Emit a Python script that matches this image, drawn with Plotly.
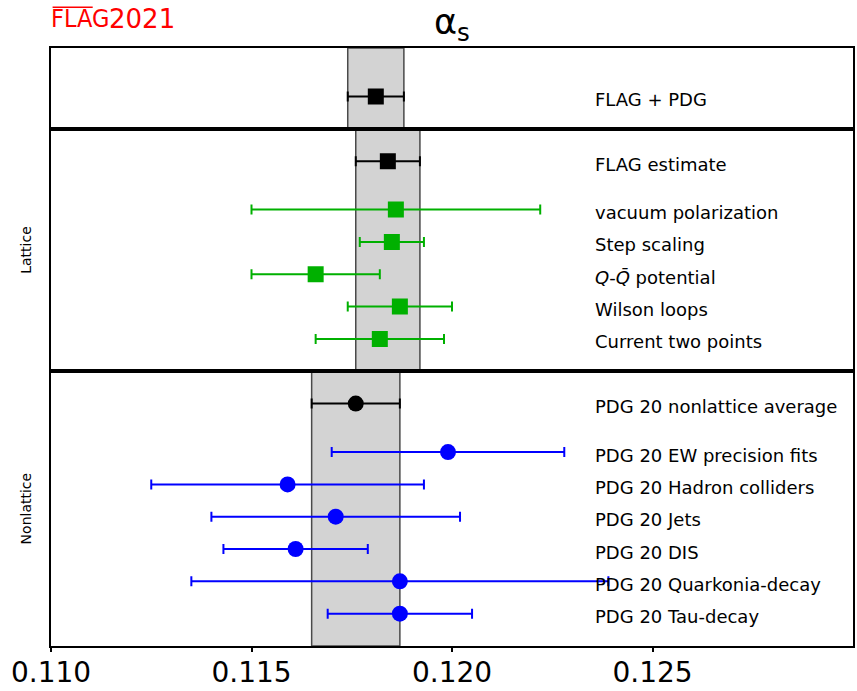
import plotly.graph_objects as go
from plotly.subplots import make_subplots

# FLAG + PDG combined
top_labels = ["FLAG + PDG"]
top_values = [0.1181]
top_errors = [0.0007]

# lattice determinations
lat_labels = ["FLAG estimate", "vacuum polarization", "Step scaling",
              "<i>Q</i>-<i>Q̄</i> potential", "Wilson loops", "Current two points"]
lat_values = [0.1184, 0.1186, 0.1185, 0.1166, 0.1187, 0.1182]
lat_errors = [0.0008, 0.0036, 0.0008, 0.0016, 0.0013, 0.0016]

# non-lattice determinations
non_labels = ["PDG 20 nonlattice average", "PDG 20 EW precision fits", "PDG 20 Hadron colliders",
              "PDG 20 Jets", "PDG 20 DIS", "PDG 20 Quarkonia-decay", "PDG 20 Tau-decay"]
non_values = [0.1176, 0.1199, 0.1159, 0.1171, 0.1161, 0.1187, 0.1187]
non_errors = [0.0011, 0.0029, 0.0034, 0.0031, 0.0018, 0.0052, 0.0018]

x_ticks = [0.110, 0.115, 0.120, 0.125]

GREEN = "#00b000"
BLUE = "#0000ff"
LABEL_X = 0.12352

fig = make_subplots(rows=3, cols=1, shared_xaxes=True, vertical_spacing=0,
                    row_heights=[2.5, 7.5, 8.5])


def rows_for(n):
    # first entry (average) sits 1.5 rows above the rest
    if n == 1:
        return [1]
    return [n + 0.5] + list(range(n - 1, 0, -1))


def add_group(row, labels, values, errors, colors, symbol, yref):
    ys = rows_for(len(values))
    # averaged band from the first entry
    fig.add_shape(type="rect", xref="x", yref=yref + " domain",
                  x0=values[0] - errors[0], x1=values[0] + errors[0], y0=0, y1=1,
                  fillcolor="#d3d3d3", line=dict(color="#4a4a4a", width=1.5), layer="below")
    for v, e, y, c in zip(values, errors, ys, colors):
        fig.add_trace(go.Scatter(
            x=[v], y=[y], mode="markers",
            marker=dict(symbol=symbol, size=16, color=c, line=dict(width=0)),
            error_x=dict(type="data", array=[e], color=c, thickness=2, width=5),
            showlegend=False, hoverinfo="x"
        ), row=row, col=1)
    for lab, y in zip(labels, ys):
        fig.add_annotation(x=LABEL_X, y=y, xref="x", yref=yref, text=lab,
                           xanchor="left", yanchor="middle", yshift=-3, showarrow=False,
                           font=dict(size=18, color="black", family="DejaVu Sans"))


add_group(1, top_labels, top_values, top_errors, ["black"], "square", "y")
add_group(2, lat_labels, lat_values, lat_errors, ["black"] + [GREEN] * 5, "square", "y2")
add_group(3, non_labels, non_values, non_errors, ["black"] + [BLUE] * 6, "circle", "y3")

for r, top in zip([1, 2, 3], [2.5, 7.5, 8.5]):
    fig.update_yaxes(range=[0, top], showticklabels=False, ticks="", showgrid=False,
                     zeroline=False, showline=True, mirror=True, linecolor="black",
                     linewidth=2, automargin=False, row=r, col=1)
    fig.update_xaxes(range=[0.110, 0.130], showgrid=False, zeroline=False, showline=True,
                     mirror=True, linecolor="black", linewidth=2, automargin=False,
                     row=r, col=1)

fig.update_xaxes(tickvals=x_ticks, ticktext=[f"{t:.3f}" for t in x_ticks], ticks="outside",
                 ticklen=4, tickwidth=1.5, tickcolor="black", ticklabelstandoff=-4,
                 tickfont=dict(size=28, color="black", family="DejaVu Sans"), row=3, col=1)

fig.update_yaxes(title_text="Lattice", title_standoff=14,
                 title_font=dict(size=14, color="black", family="DejaVu Sans"), row=2, col=1)
fig.update_yaxes(title_text="Nonlattice", title_standoff=14,
                 title_font=dict(size=14, color="black", family="DejaVu Sans"), row=3, col=1)

# title and FLAG logo
fig.add_annotation(x=0.5, y=1, xref="paper", yref="paper", yshift=48, text="α<sub>s</sub>",
                   showarrow=False, xanchor="center", yanchor="top",
                   font=dict(size=35, color="black", family="DejaVu Sans"))
fig.add_annotation(x=0, y=1, xref="paper", yref="paper", yshift=46, xshift=-2, text="FLAG",
                   showarrow=False, xanchor="left", yanchor="top",
                   font=dict(size=25, color="#ff0000", family="DejaVu Sans Condensed"))
fig.add_annotation(x=0, y=1, xref="paper", yref="paper", yshift=46, xshift=56, text="2021",
                   showarrow=False, xanchor="left", yanchor="top",
                   font=dict(size=26, color="#ff0000", family="DejaVu Sans"))
fig.add_shape(type="line", xref="paper", yref="paper", x0=0.002, x1=0.052, y0=1.068, y1=1.068,
              line=dict(color="#ff0000", width=1.5))

fig.update_layout(width=857, height=691, plot_bgcolor="white", paper_bgcolor="white",
                  margin=dict(l=51, r=4, t=48, b=45), showlegend=False)

# page body has a default 8px margin; drop it so the figure fills the window
fig.write_html("out.html", config={"displayModeBar": False},
               post_script="document.body.style.margin='0';")
